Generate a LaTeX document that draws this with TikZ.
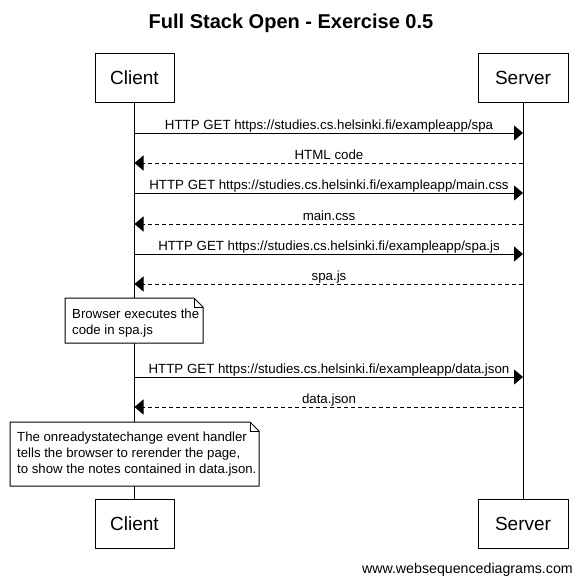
\documentclass[tikz,border=0pt]{standalone}
\usepackage{fontspec}
\setmainfont{Liberation Sans}
\usetikzlibrary{arrows.meta}
\begin{document}
\begin{tikzpicture}[x=1pt,y=-1pt,
  lw/.style={line width=1pt},
  actor/.style={draw,lw,fill=white,minimum height=49pt,inner sep=0pt,font=\fontsize{19}{22}\selectfont},
  life/.style={lw},
  req/.style={lw,-{Triangle[length=9pt,width=15pt]}},
  resp/.style={lw,dash pattern=on 4pt off 3pt,-{Triangle[length=9pt,width=15pt]}},
  msg/.style={anchor=base,inner sep=0pt,font=\fontsize{13.3}{16}\selectfont},
  notebox/.style={draw,lw,fill=white},
  notetext/.style={anchor=north west,inner sep=0pt,align=left,font=\fontsize{13.2}{16}\selectfont}]
\useasboundingbox (0,0) rectangle (582,582);
\fill[white] (0,0) rectangle (582,582);
% title
\node[anchor=base,inner sep=0pt,font=\fontsize{20}{24}\selectfont\bfseries] (title) at (291,28) {Full Stack Open - Exercise 0.5};
% participants
\node[actor,minimum width=79pt] (ct) at (134.5,78) {Client};
\node[actor,minimum width=90pt] (st) at (523,78) {Server};
\node[actor,minimum width=79pt] (cb) at (134.5,523.5) {Client};
\node[actor,minimum width=90pt] (sb) at (523,523.5) {Server};
% lifelines
\draw[life] (ct.south) -- (cb.north);
\draw[life] (st.south) -- (sb.north);
% messages
\coordinate (c1) at (134.5,133); \coordinate (s1) at (523,133);
\coordinate (c2) at (134.5,163); \coordinate (s2) at (523,163);
\coordinate (c3) at (134.5,193); \coordinate (s3) at (523,193);
\coordinate (c4) at (134.5,224); \coordinate (s4) at (523,224);
\coordinate (c5) at (134.5,254); \coordinate (s5) at (523,254);
\coordinate (c6) at (134.5,284); \coordinate (s6) at (523,284);
\coordinate (c7) at (134.5,377); \coordinate (s7) at (523,377);
\coordinate (c8) at (134.5,407); \coordinate (s8) at (523,407);
\draw[req] (c1) -- (s1);
\node[msg] (m1) at (329,129) {HTTP GET https://studies.cs.helsinki.fi/exampleapp/spa};
\draw[resp] (s2) -- (c2);
\node[msg] (m2) at (329,159) {HTML code};
\draw[req] (c3) -- (s3);
\node[msg] (m3) at (329,189) {HTTP GET https://studies.cs.helsinki.fi/exampleapp/main.css};
\draw[resp] (s4) -- (c4);
\node[msg] (m4) at (329,220) {main.css};
\draw[req] (c5) -- (s5);
\node[msg] (m5) at (329,250) {HTTP GET https://studies.cs.helsinki.fi/exampleapp/spa.js};
\draw[resp] (s6) -- (c6);
\node[msg] (m6) at (329,280) {spa.js};
\draw[req] (c7) -- (s7);
\node[msg] (m7) at (329,373) {HTTP GET https://studies.cs.helsinki.fi/exampleapp/data.json};
\draw[resp] (s8) -- (c8);
\node[msg] (m8) at (329,403) {data.json};
% note 1
\draw[notebox] (65,298) -- (194,298) -- (203,307) -- (203,343) -- (65,343) -- cycle;
\draw[lw] (194,298) -- (194,307) -- (203,307);
\node[notetext] (n1) at (72,308.5) {Browser executes the\\code in spa.js};
% note 2
\draw[notebox] (10,422) -- (250,422) -- (259,431) -- (259,486) -- (10,486) -- cycle;
\draw[lw] (250,422) -- (250,431) -- (259,431);
\node[notetext] (n2) at (17,432) {The onreadystatechange event handler\\tells the browser to rerender the page,\\to show the notes contained in data.json.};
% footer
\node[anchor=base east,inner sep=0pt,font=\fontsize{14.2}{17}\selectfont] (foot) at (573,573) {www.websequencediagrams.com};
\end{tikzpicture}
\end{document}
